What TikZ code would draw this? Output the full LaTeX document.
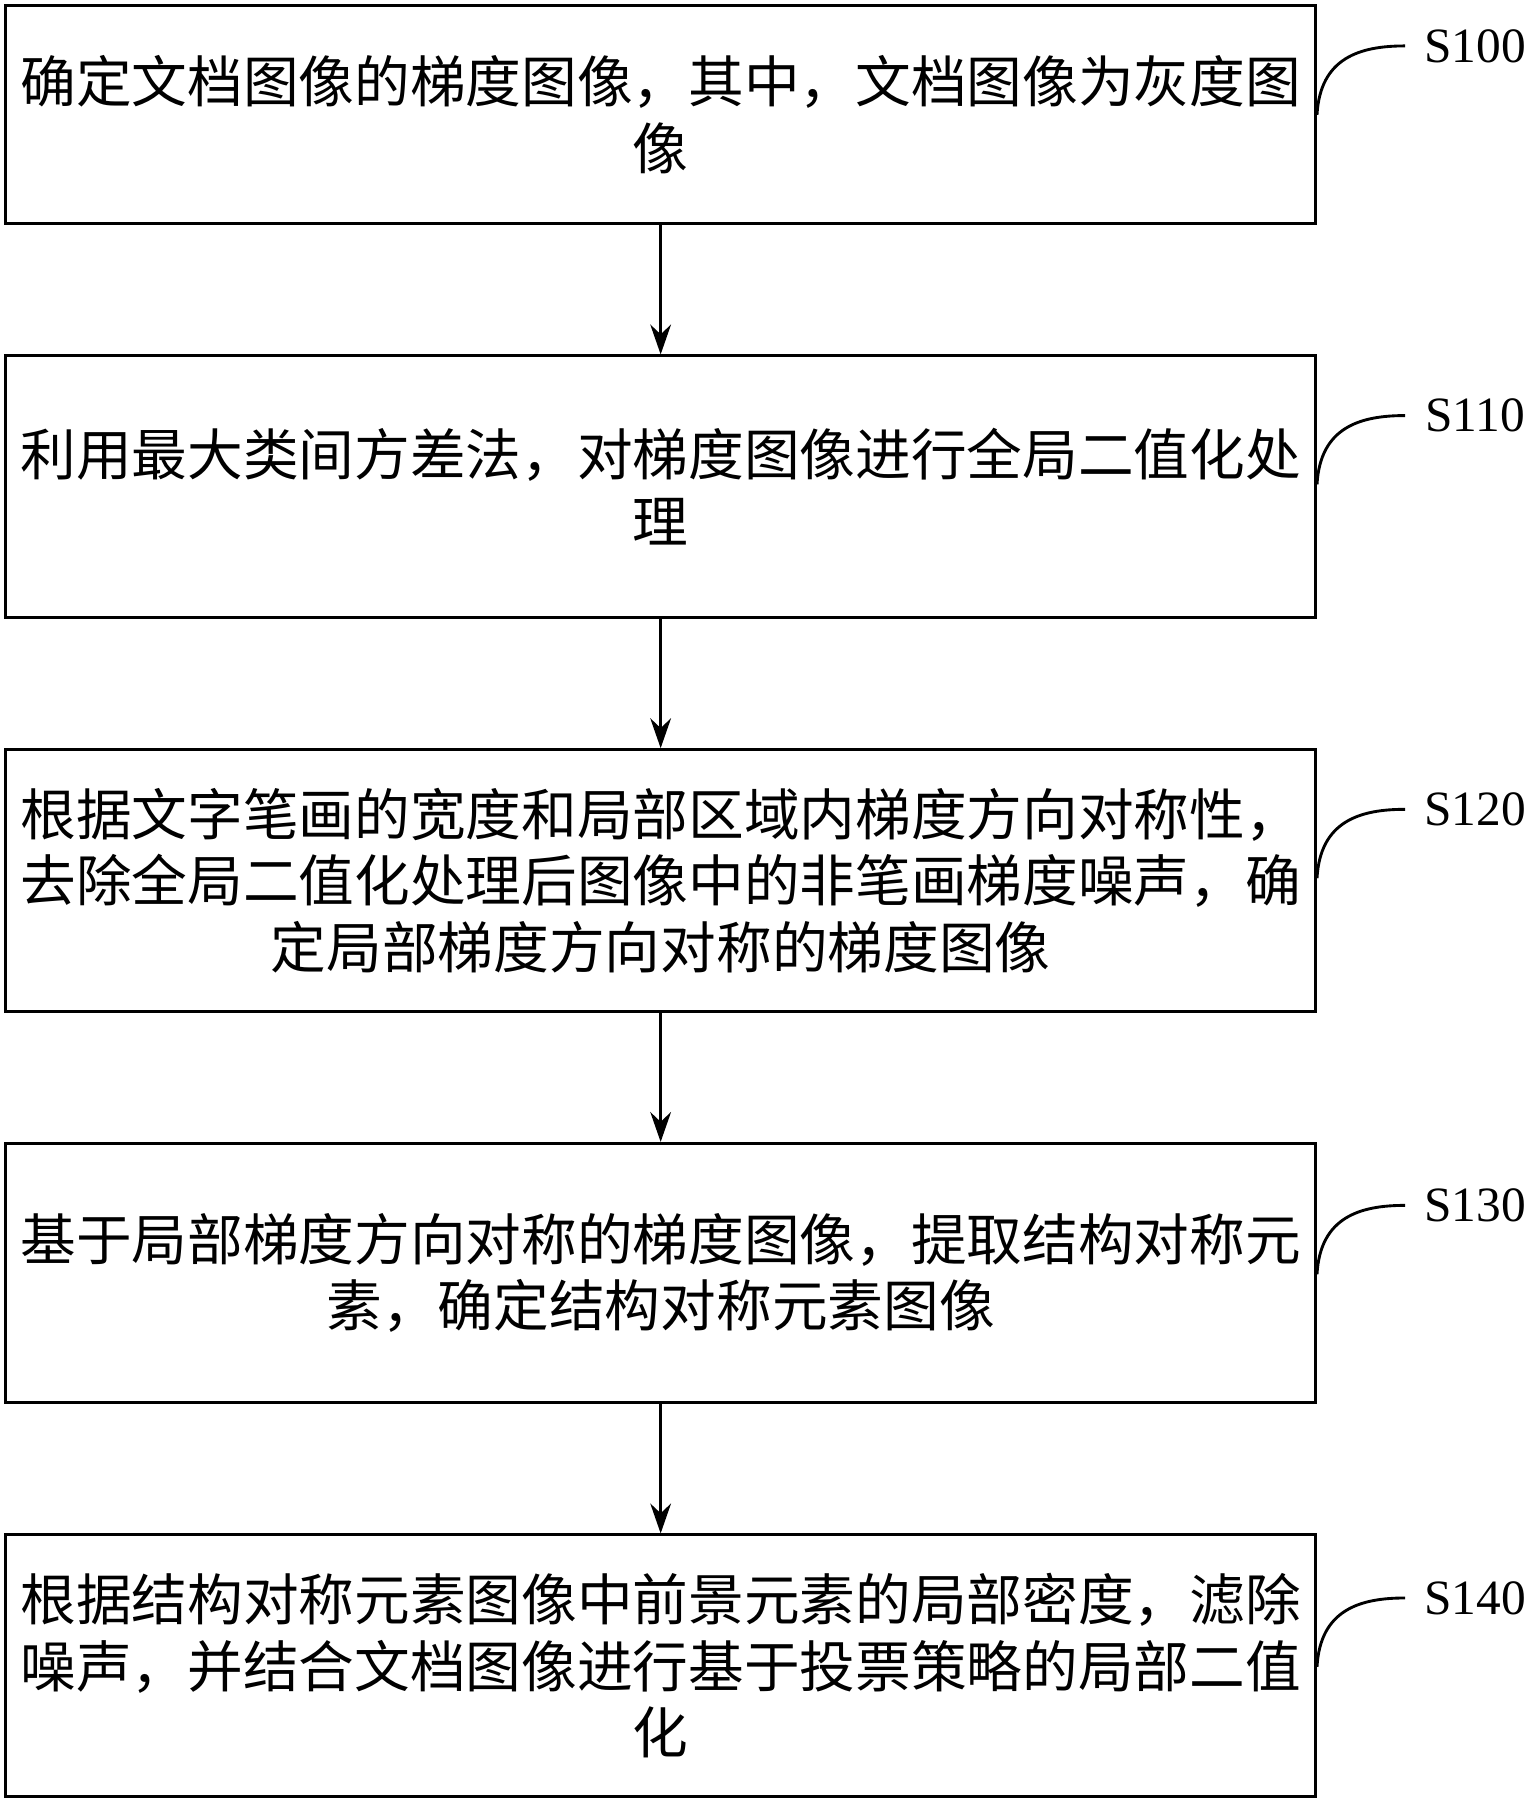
\documentclass[tikz,border=0pt]{standalone}
\usepackage{fontspec}
\setmainfont{Liberation Serif}
\newfontfamily\cjk{Noto Sans CJK SC}
\usetikzlibrary{arrows.meta}
\begin{document}
\begin{tikzpicture}[x=1pt,y=-1pt,
  box/.style={draw,line width=2.5pt,minimum width=1141pt,inner sep=0pt,align=center,
    font=\cjk\fontsize{48.5}{58}\selectfont},
  arr/.style={line width=2.5pt,-{Stealth[length=26pt,width=18pt]}},
  lab/.style={font=\fontsize{43}{50}\selectfont,anchor=center},
  cur/.style={line width=2.5pt}]
\useasboundingbox (0,0) rectangle (1336,1568);
\node[box,minimum height=190pt] (b1) at (575.5,100) {确定文档图像的梯度图像，其中，文档图像为灰度图\\像};
\node[box,minimum height=228pt] (b2) at (575.5,424) {利用最大类间方差法，对梯度图像进行全局二值化处\\理};
\node[box,minimum height=228pt] (b3) at (575.5,767) {根据文字笔画的宽度和局部区域内梯度方向对称性，\\去除全局二值化处理后图像中的非笔画梯度噪声，确\\定局部梯度方向对称的梯度图像};
\node[box,minimum height=226pt] (b4) at (575.5,1109) {基于局部梯度方向对称的梯度图像，提取结构对称元\\素，确定结构对称元素图像};
\node[box,minimum height=228pt] (b5) at (575.5,1451) {根据结构对称元素图像中前景元素的局部密度，滤除\\噪声，并结合文档图像进行基于投票策略的局部二值\\化};
\draw[arr] (b1) -- (b2);
\draw[arr] (b2) -- (b3);
\draw[arr] (b3) -- (b4);
\draw[arr] (b4) -- (b5);
\foreach \n/\t/\y in {1/S100/40,2/S110/362,3/S120/705,4/S130/1050,5/S140/1392}{
  \node[lab] (l\n) at (1285,\y) {\t};
  \coordinate (c\n) at (1224,\y);
  \draw[cur] (b\n.east |- 0,\y+60) .. controls (1150,\y+10) and (1185,\y) .. (c\n);
}
\end{tikzpicture}
\end{document}
